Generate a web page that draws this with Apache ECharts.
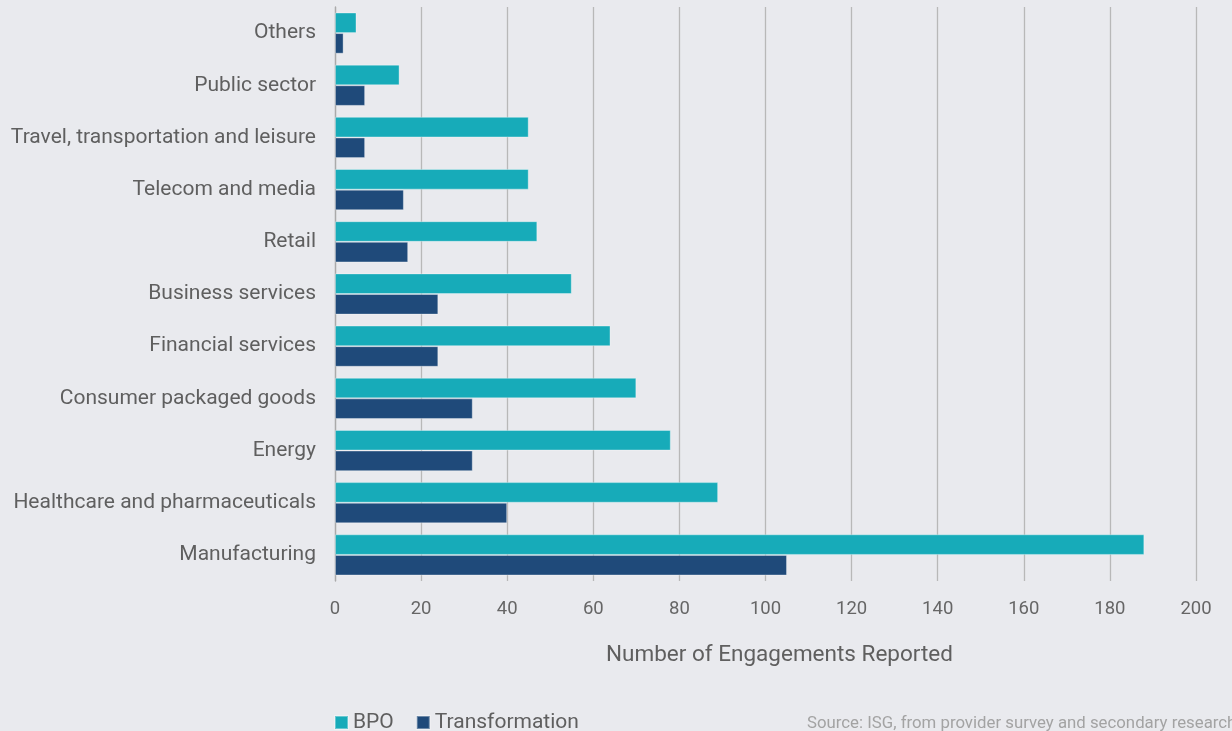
<!DOCTYPE html>
<html>
<head>
<meta charset="utf-8">
<script src="https://cdn.jsdelivr.net/npm/echarts@6/dist/echarts.min.js"></script>
<style>
html,body{margin:0;padding:0;background:#e9eaee;}
#c{width:1232px;height:731px;}
</style>
</head>
<body>
<div id="c"></div>
<script>
const categories = ["Others","Public sector","Travel, transportation and leisure","Telecom and media","Retail","Business services","Financial services","Consumer packaged goods","Energy","Healthcare and pharmaceuticals","Manufacturing"];
const bpo = [5,15,45,45,47,55,64,70,78,89,188];
const transformation = [2,7,7,16,17,24,24,32,32,40,105];
const xTicks = [0,20,40,60,80,100,120,140,160,180,200];

const chart = echarts.init(document.getElementById('c'));
const font = 'Roboto, "Noto Sans", sans-serif';
chart.setOption({
  backgroundColor: '#e9eaee',
  animation: false,
  textStyle: {fontFamily: font},
  grid: {left: 335, right: 36, top: 7, bottom: 150},
  legend: {
    left: 334, top: 712, padding: 0,
    itemWidth: 13, itemHeight: 13, itemGap: 22,
    icon: 'rect',
    textStyle: {fontSize: 21, color: '#5f5f5f', fontFamily: font, padding: [0,0,0,0]},
    data: ['BPO','Transformation']
  },
  xAxis: {
    type: 'value', min: xTicks[0], max: xTicks[xTicks.length-1], interval: 20,
    name: 'Number of Engagements Reported',
    nameLocation: 'middle', nameGap: 63,
    nameTextStyle: {fontSize: 22.5, color: '#5f5f5f', padding: [0,0,0,28]},
    axisLine: {show: false}, axisTick: {show: false},
    axisLabel: {fontSize: 18.5, color: '#666', margin: 19},
    splitLine: {lineStyle: {color: '#b8b8b8', width: 1.3}}
  },
  yAxis: {
    type: 'category', inverse: true, data: categories,
    axisLine: {lineStyle: {color: '#aaaaaa', width: 1.3}},
    axisTick: {length: 7, lineStyle: {color: '#aaaaaa', width: 1.3}},
    axisLabel: {fontSize: 21, color: '#5f5f5f', margin: 19}
  },
  series: [
    {name: 'BPO', type: 'bar', data: bpo, barGap: '0%', barCategoryGap: '21%',
     itemStyle: {color: '#17abb9', borderColor: 'rgba(255,255,255,0.35)', borderWidth: 1}},
    {name: 'Transformation', type: 'bar', data: transformation,
     itemStyle: {color: '#1f4a7a', borderColor: 'rgba(255,255,255,0.35)', borderWidth: 1}}
  ],
  graphic: [{
    type: 'text', left: 807, top: 715,
    style: {text: 'Source: ISG, from provider survey and secondary research', fontSize: 16.8, fill: '#a3a3a3', fontFamily: font}
  }]
});
</script>
</body>
</html>
